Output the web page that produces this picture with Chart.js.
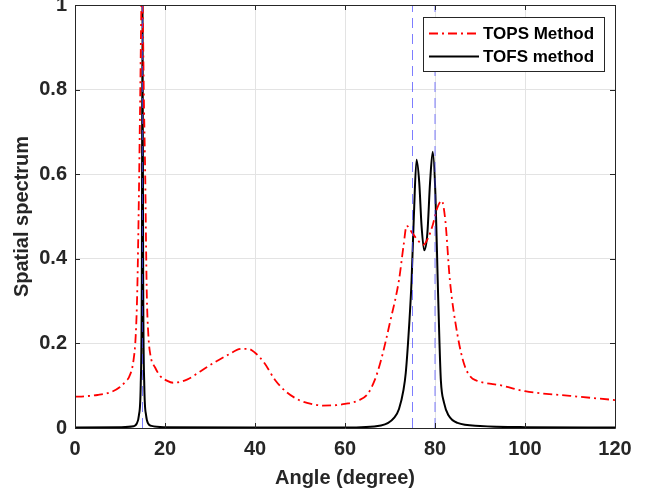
<!DOCTYPE html>
<html>
<head>
<meta charset="utf-8">
<script src="https://cdn.jsdelivr.net/npm/chart.js@4.4.1/dist/chart.umd.min.js"></script>
<style>
  body { margin: 0; background: #fff; }
  #wrap { width: 662px; height: 493px; }
</style>
</head>
<body>
<div id="wrap"><canvas id="spectrum" width="662" height="493"></canvas></div>
<script>
// ===== Data =====
const topsAngle = [0, 2, 5, 8, 10, 11.5, 12, 13, 13.5, 13.85, 14.2, 14.45, 14.9, 15.35, 15.6, 15.93, 16.3, 16.8, 17.8, 19, 20.4, 21.8, 25, 28, 31, 34, 37, 38.5, 40, 42, 44.5, 47, 50, 53, 55, 58, 60, 63, 65, 66.6, 68, 70, 72, 73, 73.7, 75, 76.5, 77.4, 78.5, 79.5, 80.5, 81.5, 82.3, 83.3, 85, 86.5, 88, 89, 95, 100, 110, 120];
const topsValue = [0.074, 0.075, 0.078, 0.085, 0.097, 0.113, 0.12, 0.16, 0.22, 0.33, 0.55, 0.75, 1.05, 0.75, 0.6, 0.33, 0.22, 0.17, 0.143, 0.122, 0.112, 0.107, 0.115, 0.135, 0.155, 0.173, 0.187, 0.187, 0.178, 0.155, 0.113, 0.085, 0.065, 0.056, 0.053, 0.054, 0.057, 0.065, 0.08, 0.113, 0.16, 0.25, 0.35, 0.43, 0.478, 0.46, 0.44, 0.433, 0.45, 0.48, 0.52, 0.537, 0.49, 0.35, 0.22, 0.15, 0.12, 0.113, 0.1, 0.087, 0.076, 0.066];

const tofsAngle = [0, 10, 13, 13.7, 14.2, 14.6, 14.85, 15, 15.15, 15.4, 15.8, 16.3, 17, 20, 40, 60, 68, 71, 72, 73, 73.5, 74.3, 74.8, 75.3, 75.9, 76.5, 77, 77.6, 78.3, 78.9, 79.5, 80.1, 80.6, 81, 81.3, 82, 83, 85, 90, 100, 120];
const tofsValue = [0.001, 0.002, 0.004, 0.01, 0.03, 0.1, 0.35, 1.0, 0.35, 0.1, 0.03, 0.01, 0.005, 0.002, 0.001, 0.001, 0.006, 0.025, 0.045, 0.09, 0.13, 0.25, 0.35, 0.5, 0.634, 0.58, 0.48, 0.42, 0.46, 0.58, 0.653, 0.55, 0.35, 0.2, 0.113, 0.06, 0.03, 0.012, 0.005, 0.002, 0.001];

const trueAngles = [15, 75, 80];
const xTicks = [0, 20, 40, 60, 80, 100, 120];
const yTicks = [0, 0.2, 0.4, 0.6, 0.8, 1];

// ===== Helpers =====
const AXIS = "#262626";
const FONT = "'Liberation Sans', Arial, sans-serif";
const toPoints = (xs, ys) => xs.map((x, i) => ({ x: x, y: ys[i] }));

const markerSets = trueAngles.map(a => ({
  label: "true " + a,
  data: [{ x: a, y: 0 }, { x: a, y: 1 }],
  borderColor: "rgba(70,70,255,0.7)",
  borderWidth: 1,
  borderDash: [10, 6],
  pointRadius: 0,
  order: -1,
  isMarker: true
}));

// box, inward ticks, legend (MATLAB look)
const boxPlugin = {
  id: "boxPlugin",
  afterDraw(chart) {
    const { ctx, chartArea: a, scales: { x, y } } = chart;
    ctx.save();
    ctx.strokeStyle = AXIS;
    ctx.lineWidth = 1;
    ctx.beginPath();
    ctx.rect(a.left + 0.5, a.top + 0.5, a.right - a.left, a.bottom - a.top);
    xTicks.forEach(v => {
      const px = Math.round(x.getPixelForValue(v)) + 0.5;
      ctx.moveTo(px, a.bottom); ctx.lineTo(px, a.bottom - 5);
      ctx.moveTo(px, a.top); ctx.lineTo(px, a.top + 5);
    });
    yTicks.forEach(v => {
      const py = Math.round(y.getPixelForValue(v)) + 0.5;
      ctx.moveTo(a.left, py); ctx.lineTo(a.left + 5, py);
      ctx.moveTo(a.right, py); ctx.lineTo(a.right - 5, py);
    });
    ctx.stroke();

    // legend
    const lx = 423, ly = 17, lw = 181, lh = 54;
    ctx.fillStyle = "#fff";
    ctx.fillRect(lx, ly, lw, lh);
    ctx.strokeRect(lx + 0.5, ly + 0.5, lw, lh);
    const items = chart.data.datasets.filter(d => !d.isMarker);
    items.forEach((d, i) => {
      const yy = ly + 16.5 + i * 23;
      ctx.beginPath();
      ctx.strokeStyle = d.borderColor;
      ctx.lineWidth = d.borderWidth;
      ctx.setLineDash(d.borderDash || []);
      ctx.moveTo(lx + 6, yy); ctx.lineTo(lx + 56, yy);
      ctx.stroke();
      ctx.setLineDash([]);
      ctx.fillStyle = "#000";
      ctx.font = "bold 17px " + FONT;
      ctx.textBaseline = "middle";
      ctx.fillText(d.label, lx + 60, yy + 1);
    });
    ctx.restore();
  }
};

new Chart(document.getElementById("spectrum"), {
  type: "line",
  data: {
    datasets: [
      {
        label: "TOPS Method",
        data: toPoints(topsAngle, topsValue),
        borderColor: "#ff0000",
        borderWidth: 1.8,
        borderDash: [9, 4, 2, 4],
        pointRadius: 0,
        cubicInterpolationMode: "monotone"
      },
      {
        label: "TOFS method",
        data: toPoints(tofsAngle, tofsValue),
        borderColor: "#000000",
        borderWidth: 2,
        pointRadius: 0,
        cubicInterpolationMode: "monotone"
      },
      ...markerSets
    ]
  },
  options: {
    responsive: false,
    animation: false,
    layout: { padding: { left: 0, right: 47, top: 5, bottom: 0 } },
    plugins: { legend: { display: false }, tooltip: { enabled: false } },
    scales: {
      x: {
        type: "linear",
        min: 0, max: 120,
        afterBuildTicks: s => { s.ticks = xTicks.map(v => ({ value: v })); },
        afterFit: s => { s.height = 65; s.paddingLeft = 0; s.paddingRight = 0; },
        grid: { color: "#e3e3e3", drawTicks: false },
        border: { display: false },
        ticks: {
          color: AXIS, padding: 9,
          font: { family: FONT, size: 20, weight: "bold" },
          maxRotation: 0
        },
        title: {
          display: true, text: "Angle (degree)", color: AXIS,
          font: { family: FONT, size: 20, weight: "bold" },
          padding: { top: 0, bottom: 3 }
        }
      },
      y: {
        type: "linear",
        min: 0, max: 1,
        afterBuildTicks: s => { s.ticks = yTicks.map(v => ({ value: v })); },
        afterFit: s => { s.width = 75; s.paddingTop = 0; s.paddingBottom = 0; },
        grid: { color: "#e3e3e3", drawTicks: false },
        border: { display: false },
        ticks: {
          color: AXIS, padding: 8,
          font: { family: FONT, size: 20, weight: "bold" },
          callback: v => String(v)
        },
        title: {
          display: true, text: "Spatial spectrum", color: AXIS,
          font: { family: FONT, size: 20, weight: "bold" },
          padding: { top: 10, bottom: 0 }
        }
      }
    }
  },
  plugins: [boxPlugin]
});
</script>
</body>
</html>
